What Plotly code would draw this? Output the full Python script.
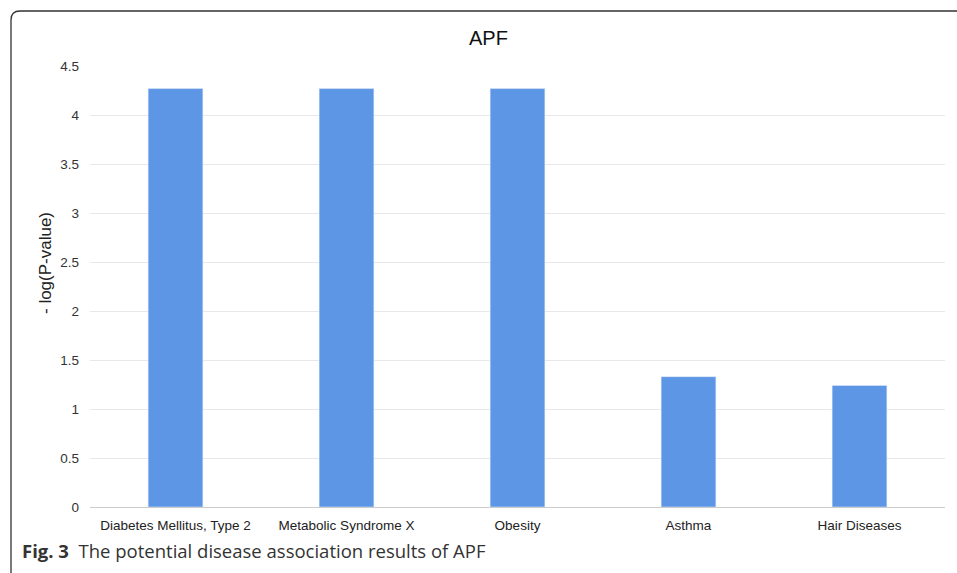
import plotly.graph_objects as go

categories = ["Diabetes Mellitus, Type 2", "Metabolic Syndrome X", "Obesity", "Asthma", "Hair Diseases"]
values = [4.27, 4.27, 4.27, 1.33, 1.24]
y_ticks = [0, 0.5, 1, 1.5, 2, 2.5, 3, 3.5, 4, 4.5]
y_tick_labels = ["0", "0.5", "1", "1.5", "2", "2.5", "3", "3.5", "4", "4.5"]

W, H = 957, 573
L, R, T, B = 90, 12, 66, 66
pw, ph = W - L - R, H - T - B

def px(x):
    return (x - L) / pw

def py(y):
    return (H - B - y) / ph

fig = go.Figure()
fig.add_trace(go.Bar(x=categories, y=values, marker_color="#5e96e6", width=0.32))

font_main = "Liberation Sans, Arial, sans-serif"
fig.update_layout(
    width=W, height=H,
    margin=dict(l=L, r=R, t=T, b=B),
    paper_bgcolor="white", plot_bgcolor="white",
    showlegend=False,
    xaxis=dict(showgrid=False, showline=False, ticks="", tickfont=dict(family=font_main, size=13.5, color="#222"),
               range=[-0.5, 4.5], fixedrange=True, ticklabelstandoff=8),
    yaxis=dict(range=[0, 4.5], tickvals=y_ticks, ticktext=y_tick_labels, showgrid=True, gridcolor="#e8e8e8",
               gridwidth=1, zeroline=True, zerolinecolor="#cccccc", zerolinewidth=1, showline=False,
               ticks="", ticklabelstandoff=10, tickfont=dict(family=font_main, size=13.5, color="#333")),
)

fig.add_annotation(text="APF", x=px(488), y=py(38), xref="paper", yref="paper", showarrow=False,
                   font=dict(family=font_main, size=20, color="#111"), xanchor="center", yanchor="middle")
fig.add_annotation(text="- log(P-value)", x=px(45), y=py(263), xref="paper", yref="paper", showarrow=False,
                   textangle=-90, font=dict(family=font_main, size=17, color="#222"),
                   xanchor="center", yanchor="middle")
fig.add_annotation(text="<b>Fig. 3</b>  The potential disease association results of APF",
                   x=px(20), y=py(550), xref="paper", yref="paper", showarrow=False,
                   font=dict(family="Open Sans, sans-serif", size=18.5, color="#333"),
                   xanchor="left", yanchor="middle")

r = 9
x0, y0 = 11, 11
path = (f"M {px(x0)} {py(620)} L {px(x0)} {py(y0 + r)} "
        f"Q {px(x0)} {py(y0)} {px(x0 + r)} {py(y0)} L {px(1000)} {py(y0)}")
fig.add_shape(type="path", path=path, xref="paper", yref="paper",
              line=dict(color="#333", width=1.3))

fig.write_html("out.html", config={"displayModeBar": False},
               post_script="document.body.style.margin='0';")
